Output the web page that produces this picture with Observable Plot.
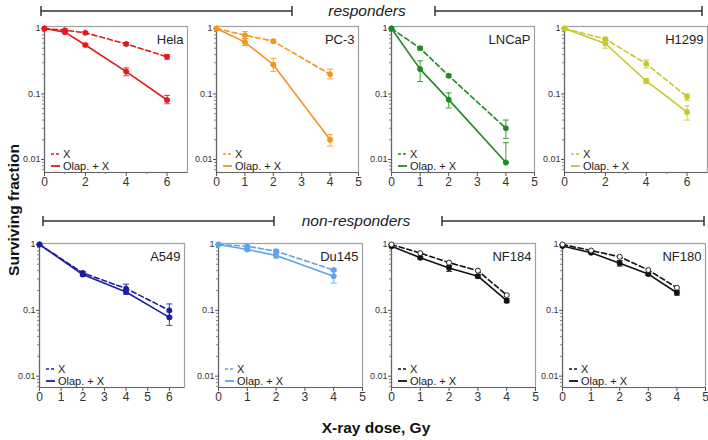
<!DOCTYPE html>
<html><head><meta charset="utf-8">
<script src="https://cdn.jsdelivr.net/npm/d3@7"></script>
<script src="https://cdn.jsdelivr.net/npm/@observablehq/plot@0.6"></script>
<style>
body{margin:0;background:#fff;font-family:"Liberation Sans",Arial,sans-serif}
#fig{position:relative;width:708px;height:440px;overflow:hidden;background:#fff}
.panel{position:absolute}
#over{position:absolute;left:0;top:0;pointer-events:none}
</style></head><body><div id="fig"></div>
<script>
// ---------- data ----------
const cells = ["Hela","PC-3","LNCaP","H1299","A549","Du145","NF184","NF180"];
const seriesNames = ["X","Olap. + X"];
const groupNames = ["responders","non-responders"];

const helaDose = [0,1,2,4,6];
const helaX    = [1,0.94,0.86,0.58,0.37];
const helaXlo  = [null,0.90,0.82,0.55,0.34];
const helaXhi  = [null,0.98,0.90,0.61,0.40];
const helaO    = [1,0.88,0.56,0.22,0.081];
const helaOlo  = [null,0.84,0.54,0.19,0.071];
const helaOhi  = [null,0.92,0.58,0.25,0.095];

const pc3Dose = [0,1,2,4];
const pc3X    = [1,0.79,0.64,0.20];
const pc3Xlo  = [null,0.70,0.60,0.17];
const pc3Xhi  = [null,0.90,0.68,0.24];
const pc3O    = [1,0.62,0.28,0.020];
const pc3Olo  = [null,0.55,0.22,0.016];
const pc3Ohi  = [null,0.70,0.35,0.024];

const lncapDose = [0,1,2,4];
const lncapX    = [1,0.50,0.19,0.030];
const lncapXlo  = [null,0.47,0.18,0.021];
const lncapXhi  = [null,0.53,0.20,0.040];
const lncapO    = [1,0.24,0.082,0.009];
const lncapOlo  = [null,0.155,0.061,0.009];
const lncapOhi  = [null,0.32,0.104,0.018];

const h1299Dose = [0,2,4,6];
const h1299X    = [1,0.69,0.29,0.091];
const h1299Xlo  = [null,0.65,0.25,0.080];
const h1299Xhi  = [null,0.73,0.33,0.100];
const h1299O    = [1,0.59,0.158,0.053];
const h1299Olo  = [null,0.50,0.145,0.040];
const h1299Ohi  = [null,0.68,0.170,0.066];

const a549Dose = [0,2,4,6];
const a549X    = [1,0.37,0.215,0.100];
const a549Xlo  = [null,0.35,0.19,0.080];
const a549Xhi  = [null,0.39,0.25,0.125];
const a549O    = [1,0.35,0.19,0.078];
const a549Olo  = [null,0.33,0.175,0.059];
const a549Ohi  = [null,0.37,0.205,0.095];

const du145Dose = [0,1,2,4];
const du145X    = [1,0.94,0.79,0.41];
const du145Xlo  = [null,0.90,0.75,0.39];
const du145Xhi  = [null,0.98,0.84,0.43];
const du145O    = [1,0.84,0.68,0.33];
const du145Olo  = [null,0.80,0.62,0.26];
const du145Ohi  = [null,0.88,0.74,0.40];

const nf184Dose = [0,1,2,3,4];
const nf184X    = [1,0.74,0.53,0.40,0.17];
const nf184Xlo  = [null,null,null,null,null];
const nf184Xhi  = [null,null,null,null,null];
const nf184O    = [0.94,0.63,0.44,0.33,0.14];
const nf184Olo  = [null,0.60,0.39,0.31,0.13];
const nf184Ohi  = [null,0.66,0.48,0.35,0.15];

const nf180Dose = [0,1,2,3,4];
const nf180X    = [1,0.81,0.65,0.41,0.22];
const nf180Xlo  = [null,null,null,null,null];
const nf180Xhi  = [null,null,null,null,null];
const nf180O    = [0.95,0.75,0.52,0.355,0.185];
const nf180Olo  = [null,0.72,0.47,0.34,0.17];
const nf180Ohi  = [null,0.78,0.57,0.37,0.20];

const xTicks = [[0,2,4,6],[0,1,2,3,4,5],[0,1,2,3,4,5],[0,2,4,6],[0,1,2,3,4,5,6],[0,1,2,3,4,5],[0,1,2,3,4,5],[0,1,2,3,4,5]];
const xMinor = [[1,3,5],[],[],[1,3,5],[],[],[],[]];
const yTicks = [1,0.1,0.01];

// ---------- styles / layout ----------
const colors = ["#e3191c","#f39424","#1e8a23","#c9c62c","#1c1ca6","#5ea4ec","#111111","#111111"];
const openX  = [false,false,false,false,false,false,true,true];
const frames = [[44,26,187,172],[216,26,358,172],[391,26,534,172],[564,26,707,172],
                [39,243,184,387],[218,243,362,387],[391,243,535,387],[562,243,705,387]];
const xMax = [7,5,5,7,6.7,5,5,5];
const yDom = [[0.00633,1.073],[0.00673,1.035]];

const sets = [
  [helaDose,helaX,helaXlo,helaXhi,helaO,helaOlo,helaOhi],
  [pc3Dose,pc3X,pc3Xlo,pc3Xhi,pc3O,pc3Olo,pc3Ohi],
  [lncapDose,lncapX,lncapXlo,lncapXhi,lncapO,lncapOlo,lncapOhi],
  [h1299Dose,h1299X,h1299Xlo,h1299Xhi,h1299O,h1299Olo,h1299Ohi],
  [a549Dose,a549X,a549Xlo,a549Xhi,a549O,a549Olo,a549Ohi],
  [du145Dose,du145X,du145Xlo,du145Xhi,du145O,du145Olo,du145Ohi],
  [nf184Dose,nf184X,nf184Xlo,nf184Xhi,nf184O,nf184Olo,nf184Ohi],
  [nf180Dose,nf180X,nf180Xlo,nf180Xhi,nf180O,nf180Olo,nf180Ohi]
];

const cap = {draw(ctx){ ctx.moveTo(-3,0); ctx.lineTo(3,0); }};
const ML=32, MR=3, MT=3, MB=24;
const fig = document.getElementById("fig");

cells.forEach((name,i)=>{
  const [dose,xv,xlo,xhi,ov,olo,ohi] = sets[i];
  const rows = [];
  dose.forEach((d,j)=>{
    rows.push({dose:d, s:seriesNames[0], v:xv[j], lo:xlo[j], hi:xhi[j]});
    rows.push({dose:d, s:seriesNames[1], v:ov[j], lo:olo[j], hi:ohi[j]});
  });
  const errs = rows.filter(r=>r.lo!=null);
  const rX = rows.filter(r=>r.s===seriesNames[0]);
  const rO = rows.filter(r=>r.s===seriesNames[1]);
  const [l,t,r,b] = frames[i];
  const row = i<4?0:1;
  const dom = yDom[row];
  const minor = [];
  for (const dec of [0.001,0.01,0.1]) for (let k=2;k<=9;k++){const v=+(k*dec).toPrecision(3); if(v>=dom[0]&&v<=dom[1]) minor.push(v);}
  const c = colors[i];
  const chart = Plot.plot({
    width:(r-l)+ML+MR, height:(b-t)+MT+MB,
    marginLeft:ML, marginRight:MR, marginTop:MT, marginBottom:MB,
    style:{fontFamily:"Liberation Sans, Arial, sans-serif", color:"#333", background:"transparent", overflow:"visible"},
    x:{type:"linear", domain:[0,xMax[i]], axis:null},
    y:{type:"log", domain:dom, axis:null},
    marks:[
      Plot.frame({stroke:"#a0a0a0", strokeWidth:1.2}),
      Plot.ruleX([0],{stroke:"#666", strokeWidth:1.2}),
      Plot.ruleY([dom[0]],{stroke:"#666", strokeWidth:1.2}),
      Plot.axisX(xTicks[i],{tickSize:4, tickPadding:1, fontSize:12, label:null, stroke:"#555"}),
      xMinor[i].length ? Plot.axisX(xMinor[i],{tickSize:2, tickFormat:()=>"", label:null, stroke:"#777"}) : null,
      Plot.axisY(yTicks,{tickSize:3, tickPadding:1, fontSize:9, label:null, tickFormat:d=>String(d), stroke:"#555"}),
      Plot.axisY(minor,{tickSize:2, tickFormat:()=>"", label:null, stroke:"#888"}),
      Plot.line(rX,{x:"dose", y:"v", stroke:c, strokeWidth:1.6, strokeDasharray:"5,3"}),
      Plot.line(rO,{x:"dose", y:"v", stroke:c, strokeWidth:1.6}),
      Plot.ruleX(errs,{x:"dose", y1:"lo", y2:"hi", stroke:c, strokeWidth:1, strokeOpacity:0.85}),
      Plot.dot(errs,{x:"dose", y:"lo", symbol:cap, stroke:c, fill:"none", strokeWidth:1, strokeOpacity:0.85}),
      Plot.dot(errs,{x:"dose", y:"hi", symbol:cap, stroke:c, fill:"none", strokeWidth:1, strokeOpacity:0.85}),
      Plot.dot(rO,{x:"dose", y:"v", r:2.6, fill:c, stroke:c, strokeWidth:0.8}),
      Plot.dot(rX,{x:"dose", y:"v", r:2.5, fill: openX[i] ? "#fff" : c, stroke:c, strokeWidth:0.9}),
      Plot.text([name],{frameAnchor:"top-right", dx:-4, dy:8, fontSize:13, fill:"#222"})
    ]
  });
  chart.classList.add("panel");
  chart.style.left = (l-ML)+"px";
  chart.style.top = (t-MT)+"px";
  fig.appendChild(chart);
});

// ---------- overlay: brackets, group labels, axis titles, legends ----------
const svg = d3.select(fig).append("svg").attr("id","over").attr("width",708).attr("height",440)
  .style("font-family","Liberation Sans, Arial, sans-serif");
const brackets = [[41,292,11],[435,702,11],[43,274,221],[442,704,221]];
brackets.forEach(([x1,x2,y])=>{
  const g = svg.append("g").attr("stroke","#333").attr("stroke-width",1.5);
  g.append("line").attr("x1",x1).attr("x2",x2).attr("y1",y).attr("y2",y);
  g.append("line").attr("x1",x1).attr("x2",x1).attr("y1",y-5).attr("y2",y+5);
  g.append("line").attr("x1",x2).attr("x2",x2).attr("y1",y-5).attr("y2",y+5);
});
svg.append("text").attr("x",367).attr("y",16).attr("text-anchor","middle")
  .attr("font-size",15.5).attr("font-style","italic").attr("fill","#222").text(groupNames[0]);
svg.append("text").attr("x",356).attr("y",226).attr("text-anchor","middle")
  .attr("font-size",15.5).attr("font-style","italic").attr("fill","#222").text(groupNames[1]);
svg.append("text").attr("transform","translate(19,210) rotate(-90)").attr("text-anchor","middle")
  .attr("font-size",15.5).attr("font-weight","bold").attr("fill","#111").text("Surviving fraction");
svg.append("text").attr("x",376).attr("y",433).attr("text-anchor","middle")
  .attr("font-size",15.5).attr("font-weight","bold").attr("fill","#111").text("X-ray dose, Gy");

cells.forEach((name,i)=>{
  const [l,t,r,b] = frames[i];
  const c = colors[i];
  const g = svg.append("g");
  g.append("line").attr("x1",l+7).attr("x2",l+16).attr("y1",b-18).attr("y2",b-18)
    .attr("stroke",c).attr("stroke-width",1.6).attr("stroke-dasharray","3,2");
  g.append("line").attr("x1",l+7).attr("x2",l+16).attr("y1",b-6).attr("y2",b-6)
    .attr("stroke",c).attr("stroke-width",1.8);
  g.append("text").attr("x",l+19).attr("y",b-14).attr("font-size",11).attr("fill","#222").text(seriesNames[0]);
  g.append("text").attr("x",l+19).attr("y",b-2).attr("font-size",11).attr("fill","#222").text(seriesNames[1]);
});
</script></body></html>
